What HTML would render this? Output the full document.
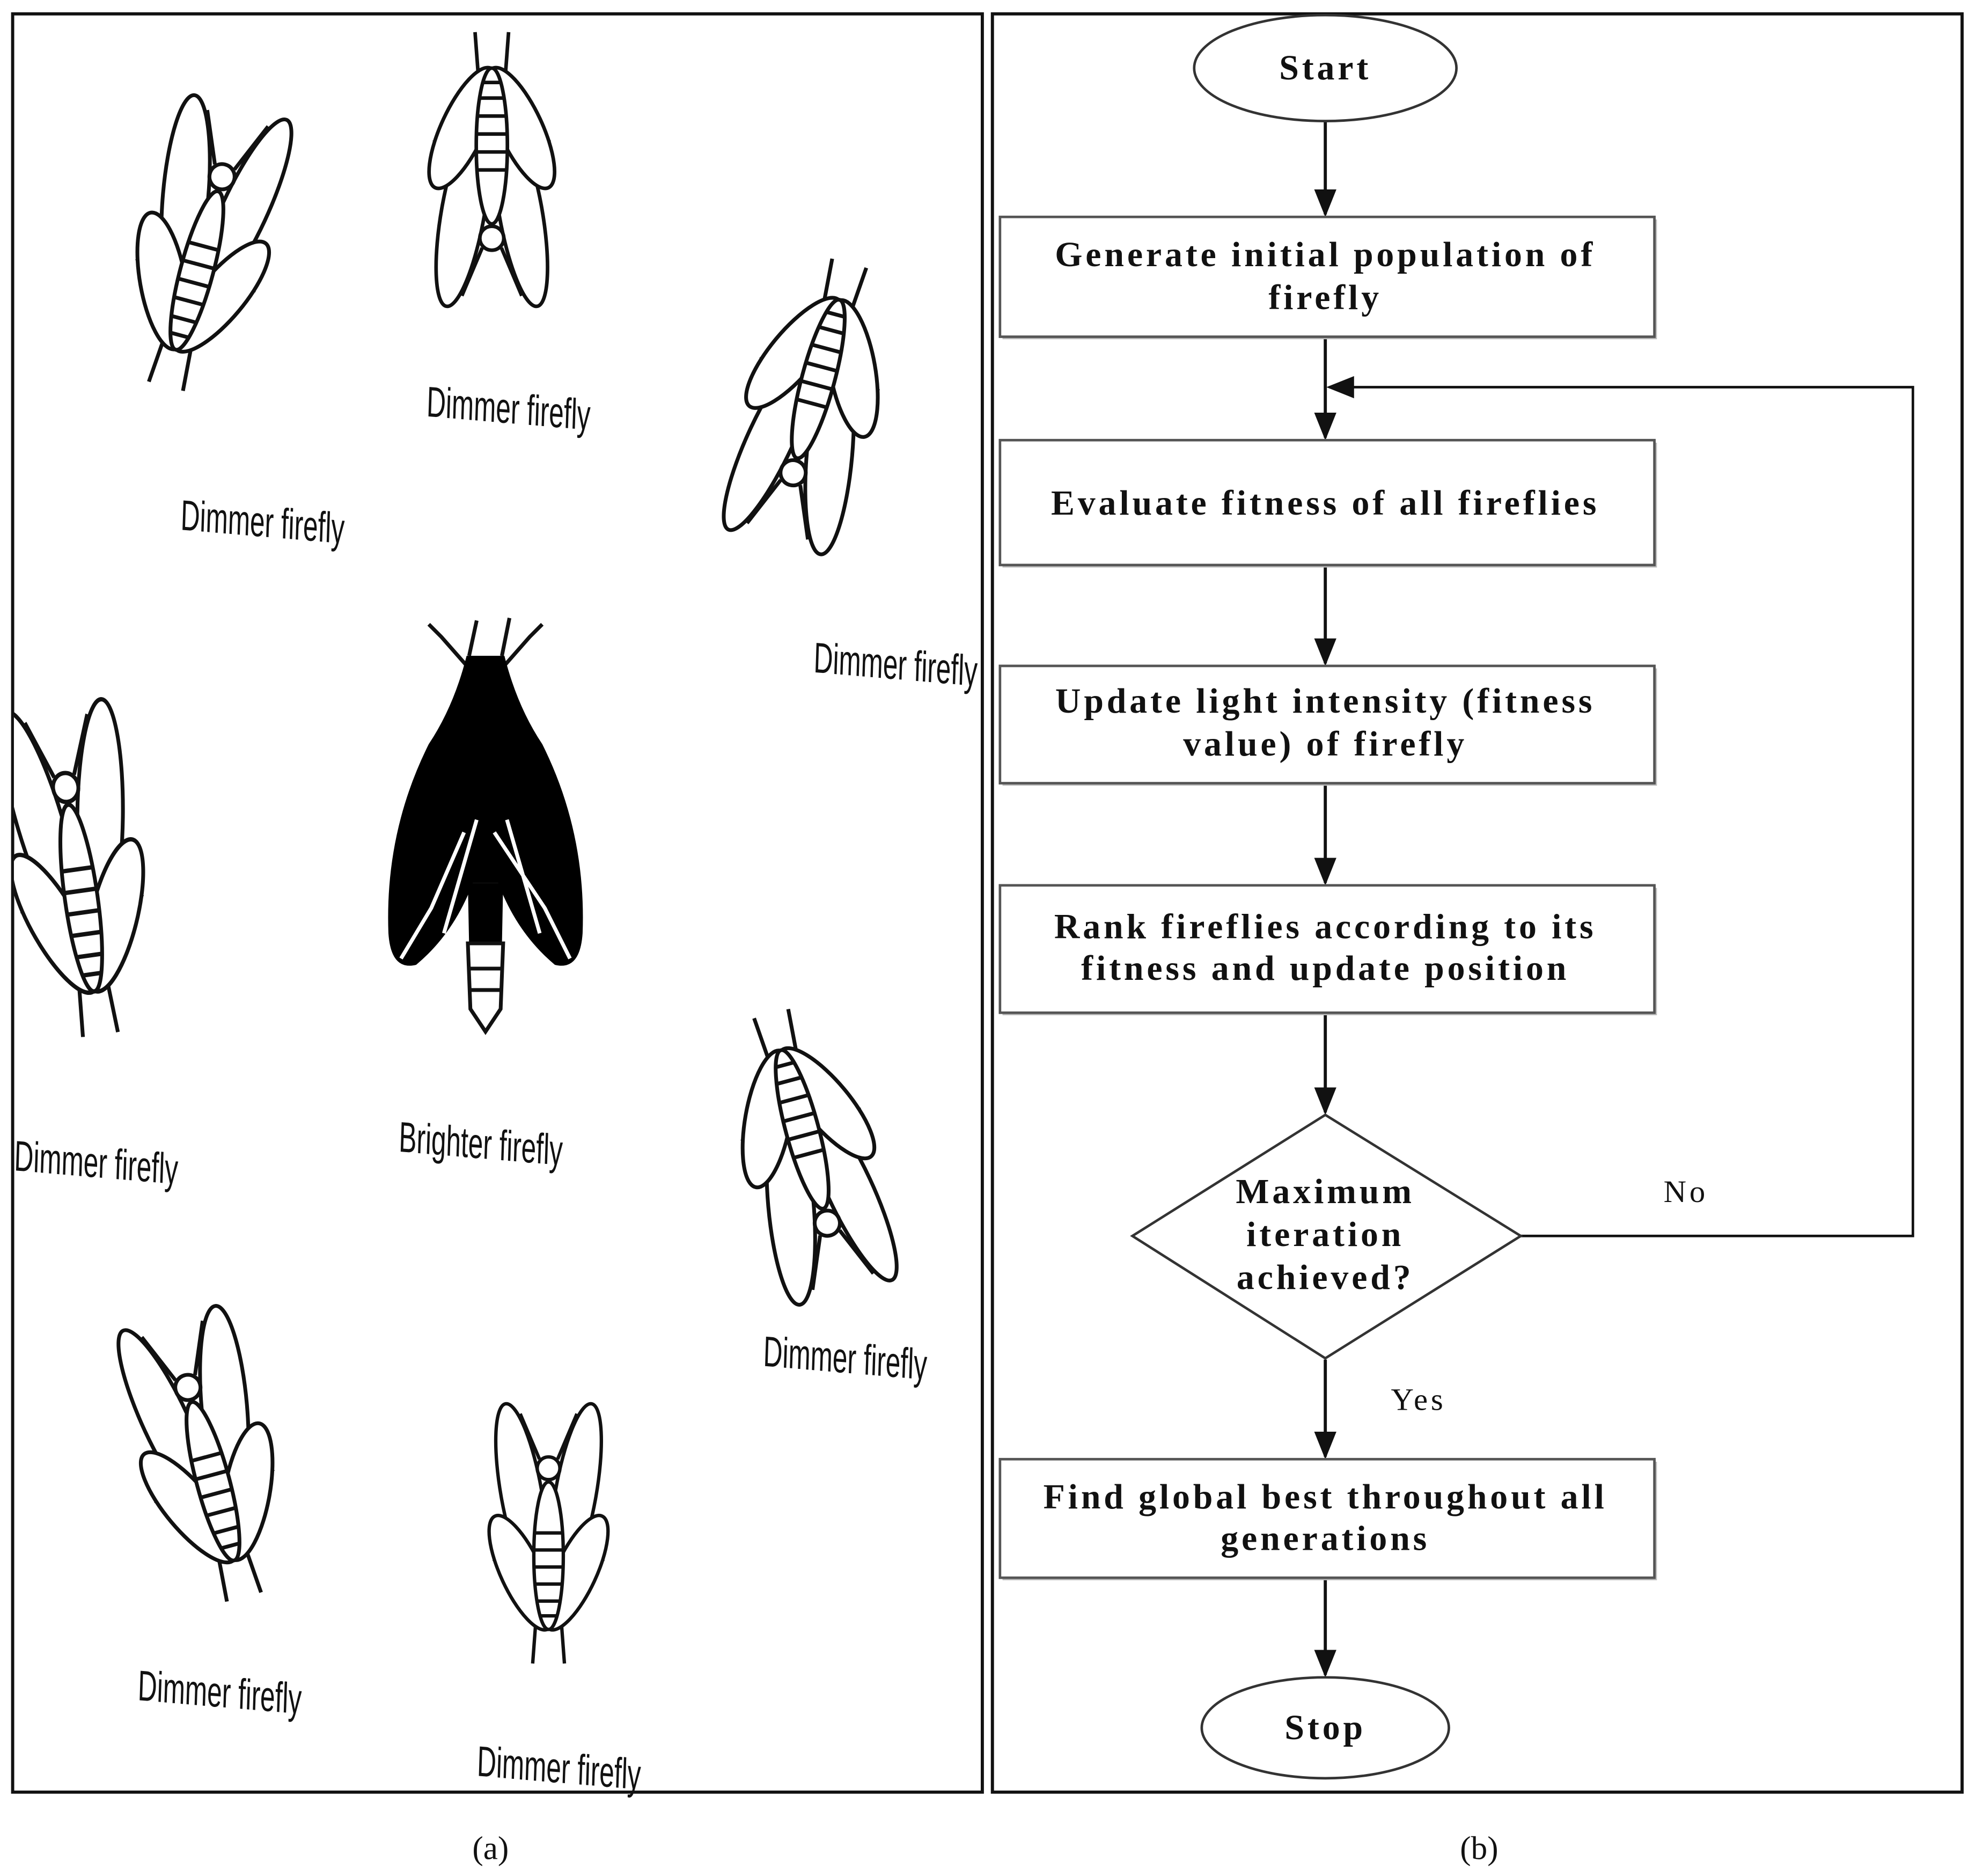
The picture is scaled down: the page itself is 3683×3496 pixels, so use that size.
<!DOCTYPE html>
<html><head><meta charset="utf-8"><style>
html,body{margin:0;padding:0;background:#fff;}
svg{display:block;}
.t{font-family:"Liberation Serif",serif;font-weight:bold;font-size:28px;letter-spacing:2.5px;fill:#111;text-anchor:middle;}
.l{font-family:"Liberation Sans",sans-serif;font-size:34px;fill:#111;}
.c{font-family:"Liberation Serif",serif;font-size:26px;fill:#111;text-anchor:middle;}
</style></head><body>
<svg width="3683" height="3496" viewBox="0 0 1567 1487.5" xmlns="http://www.w3.org/2000/svg">
<defs>
<marker id="ah2" viewBox="0 0 10 10" refX="9" refY="5" markerWidth="22" markerHeight="22" markerUnits="userSpaceOnUse" orient="auto"><path d="M0,1L10,5L0,9z" fill="#111"/></marker>
<clipPath id="lp"><rect x="11" y="12" width="767" height="1408"/></clipPath>
<g id="fly" fill="#fff" stroke="#111" stroke-width="3">
<path d="M-8,-70 L-25,-110 M8,-70 L25,-110 M-12,-20 L-40,-5 L-48,20 M12,-20 L40,-5 L48,20 M-12,10 L-38,40 M12,10 L38,40 M-8,30 L-14,110 M8,30 L14,110" fill="none"/>
<ellipse cx="-24" cy="-40" rx="18" ry="80" transform="rotate(-10 -24 -40)"/>
<ellipse cx="24" cy="-40" rx="18" ry="80" transform="rotate(10 24 -40)"/>
<ellipse cx="-24" cy="30" rx="18" ry="55" transform="rotate(-25 -24 30)"/>
<ellipse cx="24" cy="30" rx="18" ry="55" transform="rotate(25 24 30)"/>
<ellipse cx="0" cy="15" rx="13" ry="65"/>
<path d="M-12,-5H12M-13,10H13M-13,25H13M-12,40H12M-10,55H10M-7,68H7" fill="none"/>
<circle cx="0" cy="-62" r="10"/>
</g>
</defs>
<rect x="10" y="11" width="769" height="1410" fill="none" stroke="#111" stroke-width="2.5"/>
<rect x="787" y="11" width="769" height="1410" fill="none" stroke="#111" stroke-width="2.5"/>
<text class="c" x="389" y="1474">(a)</text>
<text class="c" x="1173" y="1474">(b)</text>

<g clip-path="url(#lp)">
<use href="#fly" transform="translate(160,200) rotate(15)"/>
<use href="#fly" transform="translate(390,130) rotate(180) scale(0.95)"/>
<use href="#fly" transform="translate(645,315) rotate(-165)"/>
<use href="#fly" transform="translate(62,695) rotate(-8) scale(1,1.15)"/>
<use href="#fly" transform="translate(640,910) rotate(165)"/>
<use href="#fly" transform="translate(165,1160) rotate(-15)"/>
<use href="#fly" transform="translate(435,1220) scale(0.9)"/>
</g>
<g stroke="#111" stroke-width="3" fill="none">
<path d="M372,530 L350,505 L340,495 M398,530 L420,505 L430,495 M372,520 L378,492 M398,520 L404,490"/>
</g>
<path d="M370,520 L400,520 Q410,560 430,590 Q465,660 462,740 Q460,770 440,765 Q410,740 395,700 L375,700 Q360,740 330,765 Q310,770 308,740 Q305,660 340,590 Q360,560 370,520 Z" fill="#000"/>
<path d="M368,660 L342,720 L318,760 M378,650 L352,740 M402,650 L428,740 M392,660 L432,720 L452,760" stroke="#fff" stroke-width="3"/>
<path d="M371,700 L399,700 L397,800 L385,818 L373,800 Z" fill="#000"/>
<path d="M371,748 L399,748 L397,800 L385,818 L373,800 Z" fill="#fff" stroke="#111" stroke-width="3"/>
<path d="M372,768H398M373,785H397" stroke="#111" stroke-width="3"/>

<g class="l">
<text transform="translate(143,420) scale(0.62,1) rotate(3)">Dimmer firefly</text>
<text transform="translate(338,330) scale(0.62,1) rotate(3)">Dimmer firefly</text>
<text transform="translate(645,533) scale(0.62,1) rotate(3)">Dimmer firefly</text>
<text transform="translate(11,928) scale(0.62,1) rotate(3)">Dimmer firefly</text>
<text transform="translate(316,913) scale(0.62,1) rotate(3)">Brighter firefly</text>
<text transform="translate(605,1083) scale(0.62,1) rotate(3)">Dimmer firefly</text>
<text transform="translate(109,1348) scale(0.62,1) rotate(3)">Dimmer firefly</text>
<text transform="translate(378,1408) scale(0.62,1) rotate(3)">Dimmer firefly</text>
</g>

<g stroke="#111" stroke-width="2.5" fill="none">
<line x1="1051" y1="96" x2="1051" y2="170" marker-end="url(#ah2)"/>
<line x1="1051" y1="268" x2="1051" y2="347" marker-end="url(#ah2)"/>
<line x1="1051" y1="449" x2="1051" y2="526" marker-end="url(#ah2)"/>
<line x1="1051" y1="622" x2="1051" y2="700" marker-end="url(#ah2)"/>
<line x1="1051" y1="804" x2="1051" y2="882" marker-end="url(#ah2)"/>
<line x1="1051" y1="1078" x2="1051" y2="1155" marker-end="url(#ah2)"/>
<line x1="1051" y1="1252" x2="1051" y2="1328" marker-end="url(#ah2)"/>
<polyline points="1206,980 1517,980 1517,307 1054,307" stroke-width="2" marker-end="url(#ah2)"/>
</g>
<g fill="#fff" stroke="#555" stroke-width="2">
<rect x="795" y="174" width="519" height="95" fill="#bbb" stroke="none"/>
<rect x="793" y="172" width="519" height="95"/>
<rect x="795" y="351" width="519" height="99" fill="#bbb" stroke="none"/>
<rect x="793" y="349" width="519" height="99"/>
<rect x="795" y="530" width="519" height="93" fill="#bbb" stroke="none"/>
<rect x="793" y="528" width="519" height="93"/>
<rect x="795" y="704" width="519" height="101" fill="#bbb" stroke="none"/>
<rect x="793" y="702" width="519" height="101"/>
<rect x="795" y="1159" width="519" height="94" fill="#bbb" stroke="none"/>
<rect x="793" y="1157" width="519" height="94"/>
<ellipse cx="1051" cy="54" rx="104" ry="42" stroke="#333"/>
<ellipse cx="1051" cy="1370" rx="98" ry="40" stroke="#333"/>
<polygon points="1051,884 1206,980 1051,1077 898,980" stroke="#333"/>
</g>
<g class="t">
<text x="1051" y="63">Start</text>
<text x="1051" y="211">Generate initial population of</text>
<text x="1051" y="245">firefly</text>
<text x="1051" y="408">Evaluate fitness of all fireflies</text>
<text x="1051" y="565">Update light intensity (fitness</text>
<text x="1051" y="599">value) of firefly</text>
<text x="1051" y="744">Rank fireflies according to its</text>
<text x="1051" y="777">fitness and update position</text>
<text x="1051" y="954">Maximum</text>
<text x="1051" y="988">iteration</text>
<text x="1051" y="1022">achieved?</text>
<text x="1051" y="1196">Find global best throughout all</text>
<text x="1051" y="1229">generations</text>
<text x="1051" y="1379">Stop</text>
<text x="1337" y="953" style="font-weight:normal;font-size:25px">No</text>
<text x="1125" y="1118" style="font-weight:normal;font-size:25px">Yes</text>
</g>
</svg>
</body></html>
